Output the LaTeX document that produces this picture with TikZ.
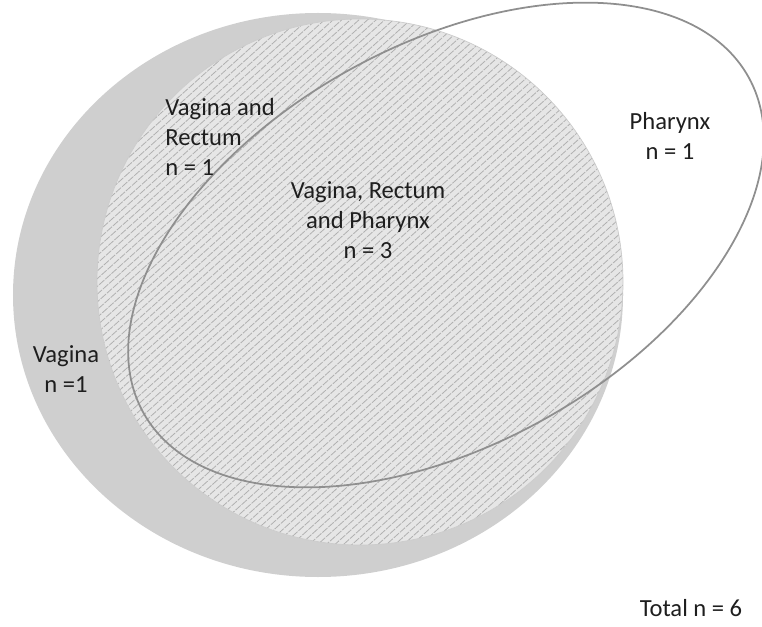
\documentclass[tikz,border=0pt]{standalone}
\usepackage{fontspec}
\setmainfont{Carlito}
\usetikzlibrary{calc}
\usepackage{tkz-euclide}
\definecolor{VagClr}{HTML}{CFCFCF}
\definecolor{RecClr}{HTML}{E6E6E6}
\definecolor{HatchClr}{HTML}{B0B0B0}
\definecolor{PhaClr}{HTML}{8F8F8F}
\definecolor{TxtClr}{HTML}{1E1E1E}

\begin{document}
\begin{tikzpicture}[setlabel/.style={font=\fontsize{14}{17}\selectfont,text=TxtClr,inner sep=0pt,align=center}]
\useasboundingbox (0,0) rectangle (15.24,12.52);

\tkzDefPoints{6.36/6.62/V,7.20/6.88/R,8.92/7.62/P}

% Vagina set
\fill[VagClr] (V) ellipse [x radius=6.10,y radius=5.64];

% Rectum set, hatched
\fill[RecClr] (R) circle (5.26);
\begin{scope}
\clip (R) circle (5.26);
\begin{scope}[shift={(R)},rotate=42]
\foreach \k in {-46,...,46}
  \draw[HatchClr,line width=0.45pt,dash pattern=on 4pt off 0.7pt] (-5.4,\k*0.115) -- (5.4,\k*0.115);
\end{scope}
\end{scope}
\draw[line width=0.4pt,color=black!20] (R) circle (5.26);

% Pharynx set
\draw[line width=1pt,color=PhaClr,rotate around={29:(P)}] (P) ellipse [x radius=6.92,y radius=4.00];

\node[setlabel,anchor=west,align=left] (vr) at (3.30,9.78) {Vagina and\\Rectum\\n = 1};
\node[setlabel] (vrp) at (7.36,8.12) {Vagina, Rectum\\and Pharynx\\n = 3};
\node[setlabel] (pha) at (13.40,9.80) {Pharynx\\n = 1};
\node[setlabel] (vag) at (1.32,5.14) {Vagina\\n =1};
\node[setlabel] (tot) at (13.82,0.36) {Total n = 6};

\end{tikzpicture}
\end{document}
